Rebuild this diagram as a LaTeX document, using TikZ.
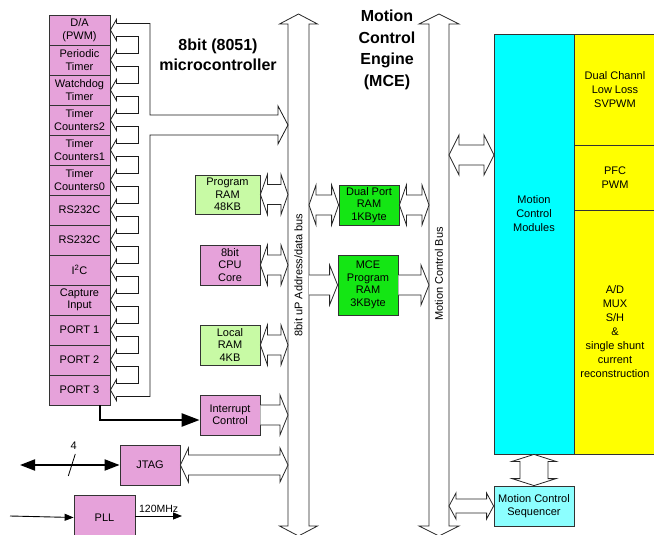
\documentclass[tikz,border=0pt]{standalone}
\usepackage{fontspec}
\setmainfont{Liberation Sans}
\usetikzlibrary{calc,arrows.meta}
\definecolor{blockpink}{RGB}{230,162,218}
\definecolor{ramgreen}{RGB}{200,250,165}
\definecolor{mcegreen}{RGB}{20,230,20}
\definecolor{modcyan}{RGB}{0,255,255}
\definecolor{seqcyan}{RGB}{140,255,255}
\definecolor{pwmyellow}{RGB}{255,255,0}
% hollow block arrows: tips, half shaft, flare, head length
\newcommand{\dualarrow}[5]{\draw[hollow] (#1) -- ++(#5,-#3-#4) -- ++(0,#4) -- ($(#2)+(-#5,-#3)$) -- ++(0,-#4) -- (#2) -- ++(-#5,#3+#4) -- ++(0,-#4) -- ($(#1)+(#5,#3)$) -- ++(0,#4) -- cycle;}
\newcommand{\oneway}[5]{\draw[hollow] ($(#1)+(0,-#3)$) -- ($(#2)+(-#5,-#3)$) -- ++(0,-#4) -- (#2) -- ++(-#5,#3+#4) -- ++(0,-#4) -- ($(#1)+(0,#3)$);}
\newcommand{\vdual}[5]{\draw[hollow] (#1) -- ++(-#3-#4,#5) -- ++(#4,0) -- ($(#2)+(-#3,-#5)$) -- ++(-#4,0) -- (#2) -- ++(#3+#4,-#5) -- ++(-#4,0) -- ($(#1)+(#3,#5)$) -- ++(#4,0) -- cycle;}
\begin{document}
\begin{tikzpicture}[x=1pt,y=-1pt]
        % Styles
        \tikzstyle{block}=[draw=black!80,line width=0.8pt,inner sep=0pt,align=center,font=\fontsize{11}{12.5}\selectfont]
        \tikzstyle{periph}=[block,fill=blockpink,minimum width=61pt,minimum height=30pt]
        \tikzstyle{ram}=[block,fill=ramgreen,minimum width=60pt,minimum height=40pt]
        \tikzstyle{module}=[block,minimum width=80pt,font=\fontsize{11}{14}\selectfont]
        \tikzstyle{hollow}=[draw=black!85,line width=0.8pt,fill=white,line join=miter]
        \tikzstyle{comb}=[draw=black!90,line width=0.8pt]
        \tikzstyle{title}=[align=center,font=\fontsize{16}{20.5}\selectfont\bfseries]
        \tikzstyle{buslabel}=[rotate=90,font=\fontsize{11}{12}\selectfont]
        \useasboundingbox (0,0) rectangle (654,535);
        %buses
        \coordinate (busAl) at (288,0);
        \coordinate (busAr) at (309,0);
        \coordinate (busBl) at (429,0);
        \coordinate (busBr) at (449,0);
        \coordinate (busAtop) at (298.5,14);
        \coordinate (busAbot) at (298.5,536);
        \coordinate (busBtop) at (439,14);
        \coordinate (busBbot) at (439,536);
        \vdual{busAtop}{busAbot}{10.5}{8.5}{10}
        \vdual{busBtop}{busBbot}{10}{10}{10}
        \node[buslabel] (busAtext) at (298.5,275) {8bit uP Address/data bus};
        \node[buslabel] (busBtext) at (439,274) {Motion Control Bus};
        %titles
        \node[title] (mcutitle) at (218,55) {8bit (8051)\\microcontroller};
        \node[title,font=\fontsize{16}{21.5}\selectfont\bfseries] (mcetitle) at (387,50) {Motion\\Control\\Engine\\(MCE)};
        %peripherals
        \foreach \txt [count=\i from 0] in {{D/A\\(PWM)},{Periodic\\Timer},{Watchdog\\Timer},{Timer\\Counters2},{Timer\\Counters1},{Timer\\Counters0},{RS232C},{RS232C},{I\textsuperscript{2}C},{Capture\\Input},{PORT 1},{PORT 2},{PORT 3}}
            \node[periph] (p\i) at (79.5,30+30*\i) {\txt};
        \foreach \i in {0,...,12}
            \draw[comb] ($(p\i.east)+(6,-6.5)$) -- ++(0,-4) -- (p\i.east) -- ++(6,10.5) -- ++(0,-4);
        \foreach \i in {0,...,11}
            \draw[comb] ($(p\i.east)+(6,6.5)$) -- ++(22,0) -- ++(0,17) -- ++(-22,0);
        \draw[comb] ($(p0.east)+(6,-6.5)$) -| (150,115) -- (278,115) -- ++(0,-9) -- (busAl |- 0,125) -- (278,144) -- ++(0,-9) -- (150,135) |- ($(p12.east)+(6,6.5)$);
        %memories and core
        \node[ram,minimum width=65pt,minimum height=39pt] (prog) at (227.5,194.5) {Program\\RAM\\48KB};
        \node[ram,fill=blockpink] (cpu) at (230,265) {8bit\\CPU\\Core};
        \node[ram] (local) at (230,345) {Local\\RAM\\4KB};
        \node[ram,fill=blockpink] (intr) at (230,415) {Interrupt\\Control};
        \node[ram,fill=mcegreen] (dpr) at (369,205) {Dual Port\\RAM\\1KByte};
        \node[ram,fill=mcegreen,minimum height=60pt] (mpr) at (368,285) {MCE\\Program\\RAM\\3KByte};
        \dualarrow{prog.east}{busAl |- prog.east}{10}{10}{7}
        \dualarrow{cpu.east}{busAl |- cpu.east}{10}{10}{7}
        \dualarrow{local.east}{busAl |- local.east}{10}{10}{7}
        \oneway{intr.east}{busAl |- intr.east}{10}{10}{8}
        \dualarrow{busAr |- dpr.west}{dpr.west}{10}{10}{7}
        \dualarrow{dpr.east}{busBl |- dpr.east}{10}{10}{7}
        \oneway{busAr |- mpr.west}{mpr.west}{10}{10}{8}
        \oneway{mpr.east}{busBl |- mpr.east}{10}{10}{8}
        %motion control side
        \node[module,fill=modcyan,minimum height=420pt] (mcm) at (534,244) {};
        \node[font=\fontsize{11}{14}\selectfont,align=center,yshift=30pt] (mcmtext) at (mcm.center) {Motion\\Control\\Modules};
        \node[module,fill=pwmyellow,minimum width=82pt,minimum height=111pt] (svpwm) at (615,89.5) {Dual Channl\\Low Loss\\SVPWM};
        \node[module,fill=pwmyellow,minimum width=82pt,minimum height=65pt] (pfc) at (615,177.5) {PFC\\PWM};
        \node[module,fill=pwmyellow,minimum width=82pt,minimum height=244pt] (adc) at (615,332) {A/D\\MUX\\S/H\\\&\\single shunt\\current\\reconstruction};
        \node[module,fill=seqcyan,minimum height=40pt,font=\fontsize{11}{13}\selectfont] (seq) at (534,506) {Motion Control\\Sequencer};
        \coordinate (mcmin) at (494,155);
        \dualarrow{busBr |- mcmin}{mcmin}{10}{10}{10}
        \dualarrow{busBr |- seq.west}{seq.west}{7}{6}{7}
        \vdual{mcm.south}{seq.north}{14}{8}{7}
        %external signals
        \node[block,fill=blockpink,minimum width=60pt,minimum height=40pt] (jtag) at (150,465) {JTAG};
        \node[block,fill=blockpink,minimum width=61pt,minimum height=45pt] (pll) at (104.5,517.5) {PLL};
        \coordinate (jtagext) at (20,465);
        \coordinate (clkin) at (10,516);
        \coordinate (clkout) at (182,516);
        \dualarrow{jtag.east}{busAl |- jtag.east}{10}{7}{8}
        \draw[line width=2.5pt,-{Triangle[length=18pt,width=13pt]}] ($(p12.south)+(20.5,0)$) |- ($(intr.west)+(0,5)$);
        \draw[line width=2pt,{Triangle[length=15pt,width=11pt]}-{Triangle[length=15pt,width=11pt]}] (jtagext) -- node[pos=0.52](slash){} (jtag.west);
        \draw[thick] ($(slash)+(-3.5,11)$) -- ($(slash)+(3.5,-11)$);
        \node[font=\fontsize{11}{12}\selectfont] (width4) at ($(slash)+(2,-19)$) {4};
        \draw[line width=0.9pt,-{Triangle[length=9pt,width=7pt]}] (clkin) -- (pll.west);
        \draw[line width=0.9pt,-{Triangle[length=9pt,width=7pt]}] ($(pll.east |- clkout)$) -- node[above,font=\fontsize{10.5}{12}\selectfont](freq){120MHz} (clkout);
    \end{tikzpicture}
\end{document}
